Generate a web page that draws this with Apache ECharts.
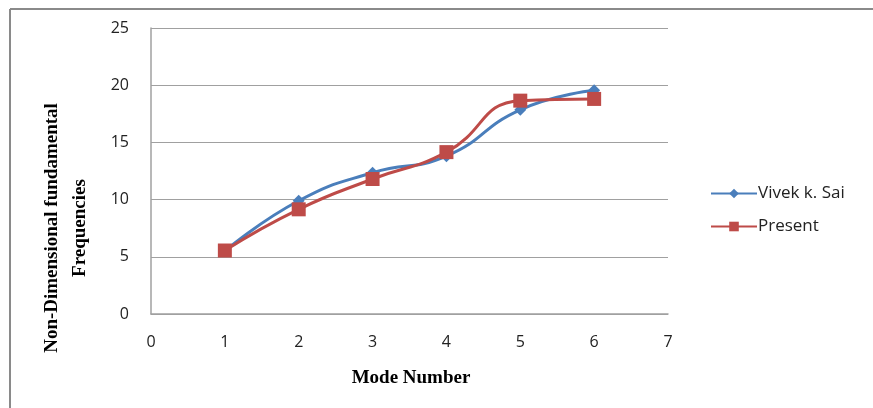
<!DOCTYPE html>
<html>
<head>
<meta charset="utf-8">
<script src="https://cdn.jsdelivr.net/npm/echarts@6/dist/echarts.min.js"></script>
<style>
  html, body { margin: 0; padding: 0; background: #fff; }
  #chart { width: 873px; height: 408px; }
</style>
</head>
<body>
<div id="chart"></div>
<script>
// Mode numbers and non-dimensional fundamental frequencies
const modes = [1, 2, 3, 4, 5, 6];
const vivekSai = [5.5, 9.9, 12.35, 13.8, 17.85, 19.55];
const present = [5.55, 9.15, 11.8, 14.15, 18.65, 18.8];
const seriesNames = ['Vivek k. Sai', 'Present'];
const xTitle = 'Mode Number';
const yTitleLines = ['Non-Dimensional fundamental', 'Frequencies'];

const pairs = (xs, ys) => xs.map((x, i) => [x, ys[i]]);

const chart = echarts.init(document.getElementById('chart'));
const tickFont = { fontFamily: 'Open Sans', fontSize: 16, color: '#222' };

chart.setOption({
  animation: false,
  backgroundColor: '#fff',
  grid: { left: 151, right: 205, top: 28, bottom: 94 },
  xAxis: {
    type: 'value', min: 0, max: 7, interval: 1,
    axisLine: { show: true, lineStyle: { color: '#a0a0a0', width: 1.5 } },
    axisTick: { show: false },
    splitLine: { show: false },
    axisLabel: Object.assign({ margin: 20 }, tickFont)
  },
  yAxis: {
    type: 'value', min: 0, max: 25, interval: 5,
    axisLine: { show: true, lineStyle: { color: '#a0a0a0', width: 1.5 } },
    axisTick: { show: false },
    splitLine: { show: true, lineStyle: { color: '#a0a0a0', width: 1.2 } },
    axisLabel: Object.assign({ margin: 22 }, tickFont)
  },
  legend: {
    orient: 'vertical',
    left: 705, top: 180,
    itemWidth: 46, itemHeight: 12, itemGap: 16,
    textStyle: { fontFamily: 'Open Sans', fontSize: 17, color: '#222', padding: [0, 0, 0, -4] },
    data: seriesNames
  },
  series: [
    {
      name: seriesNames[0], type: 'line', smooth: 0.5,
      data: pairs(modes, vivekSai),
      symbol: 'diamond', symbolSize: 12,
      lineStyle: { color: '#4a7ebb', width: 3 },
      itemStyle: { color: '#4a7ebb' }
    },
    {
      name: seriesNames[1], type: 'line', smooth: 0.5,
      data: pairs(modes, present),
      symbol: 'rect', symbolSize: 14,
      lineStyle: { color: '#be4b48', width: 3 },
      itemStyle: { color: '#be4b48' }
    }
  ],
  graphic: [
    // chart frame (left and top edges)
    { type: 'line', shape: { x1: 10, y1: 9, x2: 873, y2: 9 }, style: { stroke: '#8a8a8a', lineWidth: 2 } },
    { type: 'line', shape: { x1: 10, y1: 9, x2: 10, y2: 408 }, style: { stroke: '#8a8a8a', lineWidth: 2 } },
    {
      type: 'text', x: 52, y: 228, rotation: Math.PI / 2, originX: 0, originY: 0,
      style: {
        text: yTitleLines[0], font: 'bold 19px "Liberation Serif"', fill: '#000',
        align: 'center', verticalAlign: 'middle'
      }
    },
    {
      type: 'text', x: 80, y: 228, rotation: Math.PI / 2, originX: 0, originY: 0,
      style: {
        text: yTitleLines[1], font: 'bold 19px "Liberation Serif"', fill: '#000',
        align: 'center', verticalAlign: 'middle'
      }
    },
    {
      type: 'text', x: 411, y: 378,
      style: {
        text: xTitle, font: 'bold 19px "Liberation Serif"', fill: '#000',
        align: 'center', verticalAlign: 'middle'
      }
    }
  ]
});
</script>
</body>
</html>
